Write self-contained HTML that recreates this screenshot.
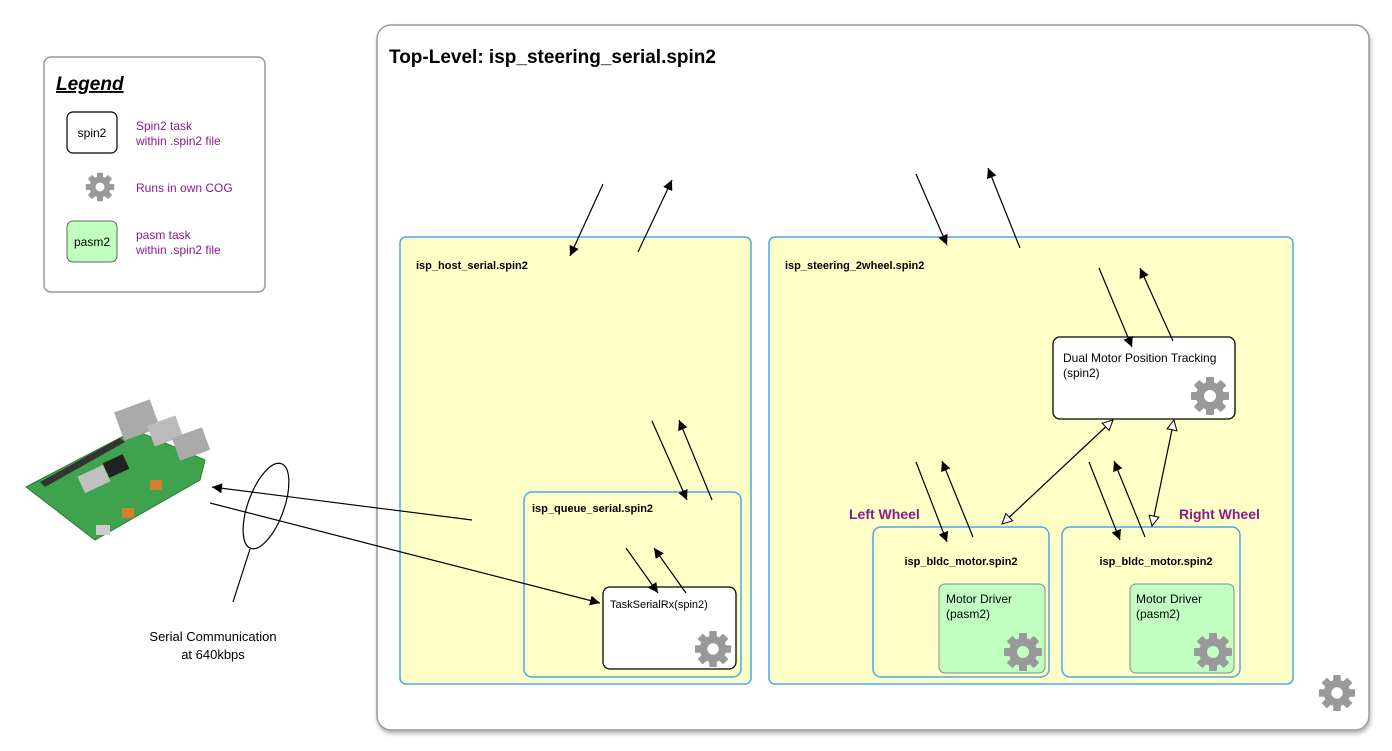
<!DOCTYPE html>
<html><head><meta charset="utf-8"><style>
html,body{margin:0;padding:0;background:#fff;}
svg{display:block;font-family:"Liberation Sans",Arial,sans-serif;}
</style></head><body>
<svg width="1392" height="751" viewBox="0 0 1392 751" xmlns="http://www.w3.org/2000/svg">
<defs>
<symbol id="g" viewBox="-20 -20 40 40">
<g fill="#999">
<rect x="-4" y="-19" width="8" height="10" rx="1"/>
<rect x="-4" y="-19" width="8" height="10" rx="1" transform="rotate(45)"/>
<rect x="-4" y="-19" width="8" height="10" rx="1" transform="rotate(90)"/>
<rect x="-4" y="-19" width="8" height="10" rx="1" transform="rotate(135)"/>
<rect x="-4" y="-19" width="8" height="10" rx="1" transform="rotate(180)"/>
<rect x="-4" y="-19" width="8" height="10" rx="1" transform="rotate(225)"/>
<rect x="-4" y="-19" width="8" height="10" rx="1" transform="rotate(270)"/>
<rect x="-4" y="-19" width="8" height="10" rx="1" transform="rotate(315)"/>
</g>
<circle r="10" fill="none" stroke="#999" stroke-width="8"/>
</symbol>
<marker id="a" viewBox="0 0 10 10" refX="10" refY="5" markerWidth="10" markerHeight="10" markerUnits="userSpaceOnUse" orient="auto"><path d="M0,0 L10,5 L0,10 z" fill="#000"/></marker>
<marker id="o" viewBox="0 0 12 12" refX="11" refY="6" markerWidth="12" markerHeight="12" markerUnits="userSpaceOnUse" orient="auto"><path d="M1,1 L11,6 L1,11 z" fill="#fff" stroke="#000"/></marker>
<marker id="os" viewBox="0 0 12 12" refX="1" refY="6" markerWidth="12" markerHeight="12" markerUnits="userSpaceOnUse" orient="auto"><path d="M11,1 L1,6 L11,11 z" fill="#fff" stroke="#000"/></marker>
<filter id="sh"><feDropShadow dx="1" dy="3" stdDeviation="2" flood-color="#000" flood-opacity="0.3"/></filter>
</defs>

<!-- Legend -->
<rect x="44" y="57" width="221" height="235" rx="7" fill="#fff" stroke="#999" stroke-width="1.5"/>
<text x="56" y="90" font-size="19" font-weight="bold" font-style="italic" text-decoration="underline">Legend</text>
<rect x="67" y="112" width="50" height="41" rx="6" fill="#fff" stroke="#000" stroke-width="1.2"/>
<text x="92" y="137" font-size="12" text-anchor="middle">spin2</text>
<text x="136" y="130" font-size="12" fill="#8b1a8b">Spin2 task</text>
<text x="136" y="145" font-size="12" fill="#8b1a8b">within .spin2 file</text>
<use href="#g" x="85" y="172" width="30" height="30"/>
<text x="136" y="192" font-size="12" fill="#8b1a8b">Runs in own COG</text>
<rect x="67" y="221" width="50" height="41" rx="6" fill="#c0ffc0" stroke="#666" stroke-width="1"/>
<text x="92" y="246" font-size="12" text-anchor="middle">pasm2</text>
<text x="136" y="239" font-size="12" fill="#8b1a8b">pasm task</text>
<text x="136" y="254" font-size="12" fill="#8b1a8b">within .spin2 file</text>

<!-- Top level -->
<rect x="377" y="25" width="992" height="705" rx="14" fill="#fff" stroke="#999" stroke-width="1.5" filter="url(#sh)"/>
<text x="389" y="63" font-size="19" font-weight="bold">Top-Level: isp_steering_serial.spin2</text>
<use href="#g" x="1318" y="674" width="38" height="38"/>

<!-- host serial -->
<rect x="400" y="237" width="351" height="447" rx="6" fill="#ffffc8" stroke="#4aa8e8" stroke-width="1.5"/>
<text x="416" y="269" font-size="11" font-weight="bold">isp_host_serial.spin2</text>
<rect x="524" y="492" width="217" height="185" rx="8" fill="#ffffc8" stroke="#4aa8e8" stroke-width="1.5"/>
<text x="532" y="512" font-size="11" font-weight="bold">isp_queue_serial.spin2</text>
<rect x="603" y="587" width="133" height="82" rx="7" fill="#fff" stroke="#000" stroke-width="1.3"/>
<text x="610" y="608" font-size="11">TaskSerialRx(spin2)</text>
<use href="#g" x="694" y="630" width="38" height="38"/>

<!-- steering -->
<rect x="769" y="237" width="524" height="447" rx="6" fill="#ffffc8" stroke="#4aa8e8" stroke-width="1.5"/>
<text x="785" y="269" font-size="11" font-weight="bold">isp_steering_2wheel.spin2</text>
<rect x="1053" y="337" width="182" height="82" rx="7" fill="#fff" stroke="#000" stroke-width="1.3"/>
<text x="1063" y="362" font-size="12">Dual Motor Position Tracking</text>
<text x="1063" y="377" font-size="12">(spin2)</text>
<use href="#g" x="1190" y="376" width="40" height="40"/>

<text x="849" y="519" font-size="14" font-weight="bold" fill="#8b1a8b">Left Wheel</text>
<text x="1179" y="519" font-size="14" font-weight="bold" fill="#8b1a8b">Right Wheel</text>

<rect x="873" y="527" width="176" height="150" rx="8" fill="#ffffc8" stroke="#4aa8e8" stroke-width="1.5"/>
<text x="961" y="565" font-size="11" font-weight="bold" text-anchor="middle">isp_bldc_motor.spin2</text>
<rect x="939" y="584" width="106" height="89" rx="6" fill="#c0ffc0" stroke="#888" stroke-width="1"/>
<text x="946" y="603" font-size="12">Motor Driver</text>
<text x="946" y="618" font-size="12">(pasm2)</text>
<use href="#g" x="1003" y="632" width="40" height="40"/>

<rect x="1062" y="527" width="178" height="150" rx="8" fill="#ffffc8" stroke="#4aa8e8" stroke-width="1.5"/>
<text x="1156" y="565" font-size="11" font-weight="bold" text-anchor="middle">isp_bldc_motor.spin2</text>
<rect x="1130" y="584" width="104" height="89" rx="6" fill="#c0ffc0" stroke="#888" stroke-width="1"/>
<text x="1136" y="603" font-size="12">Motor Driver</text>
<text x="1136" y="618" font-size="12">(pasm2)</text>
<use href="#g" x="1193" y="632" width="40" height="40"/>

<!-- arrows -->
<g stroke="#000" stroke-width="1.2" fill="none">
<line x1="603" y1="184" x2="570" y2="256" marker-end="url(#a)"/>
<line x1="638" y1="252" x2="672" y2="180" marker-end="url(#a)"/>
<line x1="916" y1="174" x2="947" y2="245" marker-end="url(#a)"/>
<line x1="1020" y1="248" x2="988" y2="168" marker-end="url(#a)"/>
<line x1="1099" y1="268" x2="1132" y2="347" marker-end="url(#a)"/>
<line x1="1173" y1="341" x2="1140" y2="268" marker-end="url(#a)"/>
<line x1="652" y1="421" x2="687" y2="500" marker-end="url(#a)"/>
<line x1="712" y1="500" x2="679" y2="420" marker-end="url(#a)"/>
<line x1="626" y1="548" x2="658" y2="593" marker-end="url(#a)"/>
<line x1="686" y1="593" x2="654" y2="548" marker-end="url(#a)"/>
<line x1="916" y1="462" x2="947" y2="542" marker-end="url(#a)"/>
<line x1="973" y1="537" x2="942" y2="461" marker-end="url(#a)"/>
<line x1="1089" y1="462" x2="1120" y2="540" marker-end="url(#a)"/>
<line x1="1145" y1="537" x2="1114" y2="461" marker-end="url(#a)"/>
<line x1="1113" y1="420" x2="1002" y2="524" marker-start="url(#os)" marker-end="url(#o)"/>
<line x1="1174" y1="420" x2="1152" y2="526" marker-start="url(#os)" marker-end="url(#o)"/>
<line x1="472" y1="520" x2="212" y2="487" marker-end="url(#a)"/>
<line x1="210" y1="503" x2="600" y2="603" marker-end="url(#a)"/>
<ellipse cx="266" cy="506" rx="18" ry="45" transform="rotate(20 266 506)"/>
<line x1="250" y1="549" x2="233" y2="602"/>
</g>
<text x="213" y="641" font-size="13" text-anchor="middle">Serial Communication</text>
<text x="213" y="659" font-size="13" text-anchor="middle">at 640kbps</text>

<!-- Raspberry Pi approximation -->
<g>
<polygon points="26,487 135,430 205,460 200,480 95,540" fill="#3fa34d" stroke="#2d7a38" stroke-width="1"/>
<polygon points="40,482 120,438 125,442 45,487" fill="#333"/>
<rect x="118" y="405" width="38" height="30" fill="#aaa" transform="rotate(-20 137 420)"/>
<rect x="150" y="420" width="30" height="22" fill="#bbb" transform="rotate(-20 165 431)"/>
<rect x="175" y="432" width="32" height="24" fill="#aaa" transform="rotate(-20 191 444)"/>
<rect x="80" y="470" width="28" height="18" fill="#c0c0c0" transform="rotate(-25 94 479)"/>
<rect x="105" y="458" width="22" height="16" fill="#222" transform="rotate(-25 116 466)"/>
<rect x="150" y="480" width="12" height="10" fill="#d08030"/>
<rect x="122" y="508" width="12" height="10" fill="#d08030"/>
<rect x="96" y="525" width="14" height="10" fill="#ccc"/>
</g>
</svg>
</body></html>
